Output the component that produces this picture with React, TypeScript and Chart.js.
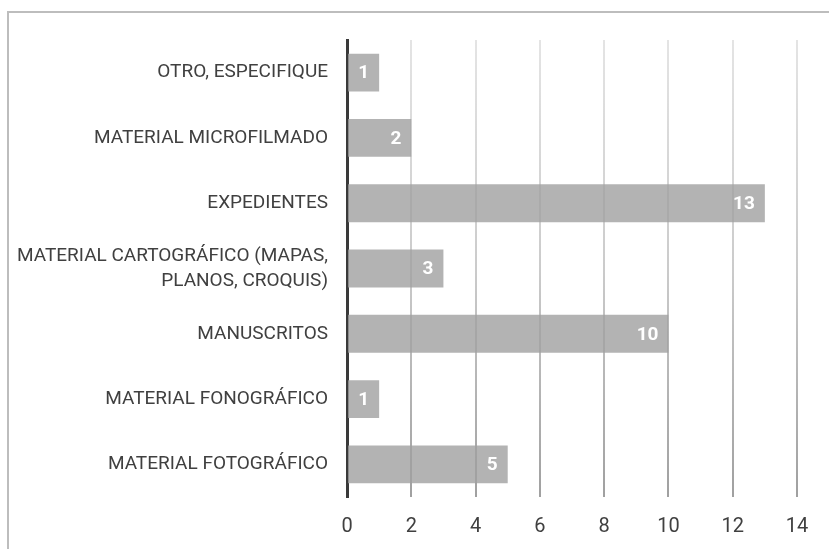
import React, { useEffect, useRef } from "react";
import { Chart, registerables } from "chart.js";

Chart.register(...registerables);

const categories: (string | string[])[] = [
  "OTRO, ESPECIFIQUE",
  "MATERIAL MICROFILMADO",
  "EXPEDIENTES",
  ["MATERIAL CARTOGRÁFICO (MAPAS,", "PLANOS, CROQUIS)"],
  "MANUSCRITOS",
  "MATERIAL FONOGRÁFICO",
  "MATERIAL FOTOGRÁFICO",
];
const values: number[] = [1, 2, 13, 3, 10, 1, 5];
const xTicks: number[] = [0, 2, 4, 6, 8, 10, 12, 14];

const FONT = 'Roboto, "Open Sans", sans-serif';
const TEXT = "#404040";

const dataLabels = {
  id: "dataLabels",
  afterDatasetsDraw(chart: any) {
    const ctx = chart.ctx;
    const meta = chart.getDatasetMeta(0);
    ctx.save();
    ctx.fillStyle = "#ffffff";
    ctx.font = `bold 19px ${FONT}`;
    ctx.textAlign = "right";
    ctx.textBaseline = "middle";
    meta.data.forEach((el: any, i: number) => {
      ctx.fillText(String(values[i]), el.x - 10, el.y + 1);
    });
    ctx.restore();
  },
};

export default function App() {
  const ref = useRef<HTMLCanvasElement | null>(null);
  useEffect(() => {
    if (!ref.current) return;
    const chart = new Chart(ref.current, {
      type: "bar",
      data: {
        labels: categories,
        datasets: [
          {
            data: values,
            backgroundColor: "rgba(160,160,160,0.8)",
            borderWidth: 0,
            categoryPercentage: 1,
            barPercentage: 0.58,
          },
        ],
      },
      options: {
        indexAxis: "y",
        animation: false,
        responsive: false,
        layout: { padding: { left: 0, right: 32, top: 40, bottom: 12 } },
        plugins: { legend: { display: false }, tooltip: { enabled: false } },
        scales: {
          x: {
            min: 0,
            max: 14,
            afterBuildTicks: (scale: any) => {
              scale.ticks = xTicks.map((v) => ({ value: v }));
            },
            afterFit: (scale: any) => {
              scale.height = 40;
            },
            border: { display: false },
            grid: {
              drawTicks: false,
              lineWidth: 2,
              color: (c: any) => {
                if (c.tick && c.tick.value === 0) return "rgba(0,0,0,0)";
                const ch = c.chart;
                const area = ch.chartArea;
                if (!area) return "#c8c8c8";
                const g = ch.ctx.createLinearGradient(0, area.top, 0, area.bottom);
                g.addColorStop(0, "#e4e4e4");
                g.addColorStop(0.5, "#cbcbcb");
                g.addColorStop(1, "#a0a0a0");
                return g;
              },
            },
            ticks: {
              color: TEXT,
              font: { family: FONT, size: 20 },
              padding: 18,
            },
          },
          y: {
            z: 1,
            afterFit: (scale: any) => {
              scale.width = 347;
            },
            border: { display: true, color: "#3a3a3a", width: 3 },
            grid: { display: false, drawTicks: false },
            ticks: {
              color: TEXT,
              font: { family: FONT, size: 19, lineHeight: 1.3 },
              padding: 19,
            },
          },
        },
      },
      plugins: [dataLabels],
    });
    return () => chart.destroy();
  }, []);

  return (
    <div style={{ position: "fixed", left: 0, top: 0, width: 829, height: 549, background: "#fff", overflow: "hidden" }}>
      <div
        style={{
          position: "absolute",
          left: 7,
          top: 11,
          width: 900,
          height: 700,
          borderLeft: "2px solid #bdbdbd",
          borderTop: "2px solid #bdbdbd",
        }}
      />
      <canvas ref={ref} width={829} height={549} style={{ position: "absolute", left: 0, top: 0 }} />
    </div>
  );
}
